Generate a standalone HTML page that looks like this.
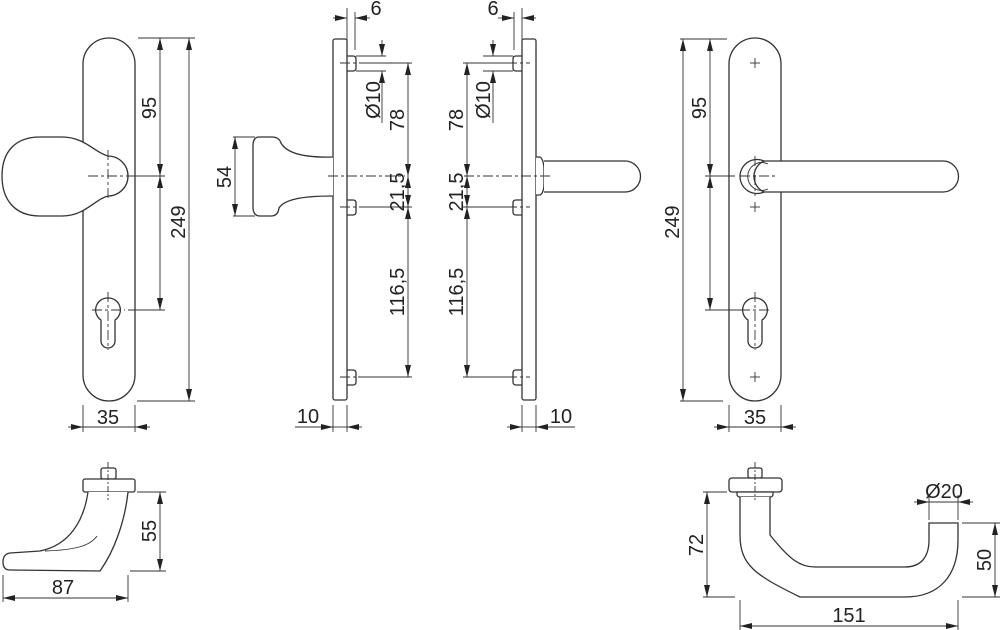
<!DOCTYPE html>
<html><head><meta charset="utf-8"><style>
html,body{margin:0;padding:0;background:#fff;}
svg{display:block;}
text{font-family:"Liberation Sans",sans-serif;font-size:20px;fill:#222;}
</style></head><body>
<svg width="1000" height="630" viewBox="0 0 1000 630" xmlns="http://www.w3.org/2000/svg">
<defs>
<marker id="a" viewBox="0 0 12 6" refX="12" refY="3" markerWidth="12" markerHeight="6" markerUnits="userSpaceOnUse" orient="auto-start-reverse"><path d="M0,0 L12,3 L0,6 Z" fill="#222"/></marker>
</defs>
<g fill="none" stroke="#333" stroke-width="1.3">
<path d="M83,64 A26,26 0 0 1 135,64 L135,375 A26,26 0 0 1 83,375 Z" fill="#fff"/>
<path d="M108,156 A20,20 0 0 1 108,196 C95,199 85,216 62,216 L40,216 C15,216 2,200 2,176 C2,152 15,137 40,137 L62,137 C85,137 95,153 108,156 Z" fill="#fff"/>
<path d="M108,298 A12,12 0 0 1 115,320 L115,341 A7,7 0 0 1 101,341 L101,320 A12,12 0 0 1 108,298 Z" fill="#fff"/>
<g stroke-dasharray="10,3,3,3" stroke-width="0.9">
<line x1="88" y1="176" x2="128" y2="176"/><line x1="108" y1="150" x2="108" y2="200"/>
<line x1="92" y1="310" x2="125" y2="310"/><line x1="108" y1="292" x2="108" y2="350"/>
</g>
<g stroke-width="0.9">
<line x1="138" y1="38" x2="195" y2="38"/><line x1="128" y1="176" x2="165" y2="176"/>
<line x1="128" y1="310" x2="165" y2="310"/><line x1="137" y1="401" x2="195" y2="401"/>
<line x1="160" y1="38" x2="160" y2="176" marker-start="url(#a)" marker-end="url(#a)"/>
<line x1="160" y1="176" x2="160" y2="310" marker-start="url(#a)" marker-end="url(#a)"/>
<line x1="189" y1="38" x2="189" y2="401" marker-start="url(#a)" marker-end="url(#a)"/>
<line x1="83" y1="405" x2="83" y2="432"/><line x1="135" y1="405" x2="135" y2="432"/>
<line x1="68" y1="427" x2="83" y2="427" marker-end="url(#a)"/>
<line x1="150" y1="427" x2="135" y2="427" marker-end="url(#a)"/>
<line x1="83" y1="427" x2="135" y2="427"/>
</g>

<rect x="333" y="39" width="14" height="361" rx="2" fill="#fff"/>
<path d="M333,157 C300,158 286,152 281,143 Q279,137 272,137 L259,137 Q253,137 253,146 L253,207 Q253,216 260,216 L271,216 Q278,216 279,208 C284,200 300,196 333,196" fill="#fff"/>
<g>
<path d="M347,56 L353,56 Q356,56 356,59 L356,68 Q356,71 353,71 L347,71"/>
<path d="M347,200 L353,200 Q356,200 356,203 L356,212 Q356,215 353,215 L347,215"/>
<path d="M347,370 L353,370 Q356,370 356,373 L356,382 Q356,385 353,385 L347,385"/>
</g>
<g stroke-dasharray="10,3,3,3" stroke-width="0.9">
<line x1="340" y1="63" x2="362" y2="63"/><line x1="340" y1="207" x2="362" y2="207"/>
<line x1="340" y1="377" x2="362" y2="377"/><line x1="328" y1="176" x2="405" y2="176"/>
</g>
<g stroke-width="0.9">
<line x1="347" y1="8" x2="347" y2="45"/><line x1="355" y1="12" x2="355" y2="50"/>
<line x1="333" y1="18" x2="347" y2="18" marker-end="url(#a)"/>
<line x1="370" y1="18" x2="355" y2="18" marker-end="url(#a)"/>
<line x1="356" y1="56" x2="386" y2="56"/><line x1="356" y1="71" x2="386" y2="71"/>
<line x1="382" y1="40" x2="382" y2="56" marker-end="url(#a)"/>
<line x1="382" y1="123" x2="382" y2="71" marker-end="url(#a)"/>
<line x1="362" y1="63" x2="412" y2="63"/><line x1="362" y1="207" x2="412" y2="207"/>
<line x1="358" y1="377" x2="412" y2="377"/>
<line x1="408" y1="63" x2="408" y2="176" marker-start="url(#a)" marker-end="url(#a)"/>
<line x1="408" y1="176" x2="408" y2="207" marker-start="url(#a)" marker-end="url(#a)"/>
<line x1="408" y1="207" x2="408" y2="377" marker-start="url(#a)" marker-end="url(#a)"/>
<line x1="333" y1="405" x2="333" y2="432"/><line x1="347" y1="405" x2="347" y2="432"/>
<line x1="295" y1="427" x2="333" y2="427" marker-end="url(#a)"/>
<line x1="362" y1="427" x2="347" y2="427" marker-end="url(#a)"/>
<line x1="333" y1="427" x2="347" y2="427"/>
</g>
<line x1="233" y1="137" x2="255" y2="137" stroke-width="0.9"/>
<line x1="233" y1="216" x2="255" y2="216" stroke-width="0.9"/>
<line x1="235" y1="137" x2="235" y2="216" stroke-width="0.9" marker-start="url(#a)" marker-end="url(#a)"/>

<rect x="522" y="39" width="14" height="361" rx="2" fill="#fff"/>
<path d="M536,157 L540,157 Q544,160 544,170 L544,183 Q544,193 540,195 L536,195" fill="#fff"/>
<path d="M544,161 L625,161 A15.5,15.5 0 0 1 625,192 L544,192" fill="#fff"/>
<g>
<path d="M522,56 L516,56 Q513,56 513,59 L513,68 Q513,71 516,71 L522,71"/>
<path d="M522,200 L516,200 Q513,200 513,203 L513,212 Q513,215 516,215 L522,215"/>
<path d="M522,370 L516,370 Q513,370 513,373 L513,382 Q513,385 516,385 L522,385"/>
</g>
<g stroke-dasharray="10,3,3,3" stroke-width="0.9">
<line x1="507" y1="63" x2="530" y2="63"/><line x1="507" y1="207" x2="530" y2="207"/>
<line x1="507" y1="377" x2="530" y2="377"/><line x1="464" y1="176" x2="550" y2="176"/>
</g>
<g stroke-width="0.9">
<line x1="522" y1="8" x2="522" y2="45"/><line x1="514" y1="12" x2="514" y2="50"/>
<line x1="536" y1="18" x2="522" y2="18" marker-end="url(#a)"/>
<line x1="498" y1="18" x2="514" y2="18" marker-end="url(#a)"/>
<line x1="483" y1="56" x2="513" y2="56"/><line x1="483" y1="71" x2="513" y2="71"/>
<line x1="493" y1="40" x2="493" y2="56" marker-end="url(#a)"/>
<line x1="493" y1="123" x2="493" y2="71" marker-end="url(#a)"/>
<line x1="463" y1="63" x2="507" y2="63"/><line x1="463" y1="207" x2="507" y2="207"/>
<line x1="463" y1="377" x2="511" y2="377"/>
<line x1="467" y1="63" x2="467" y2="176" marker-start="url(#a)" marker-end="url(#a)"/>
<line x1="467" y1="176" x2="467" y2="207" marker-start="url(#a)" marker-end="url(#a)"/>
<line x1="467" y1="207" x2="467" y2="377" marker-start="url(#a)" marker-end="url(#a)"/>
<line x1="522" y1="405" x2="522" y2="432"/><line x1="536" y1="405" x2="536" y2="432"/>
<line x1="507" y1="427" x2="522" y2="427" marker-end="url(#a)"/>
<line x1="575" y1="427" x2="536" y2="427" marker-end="url(#a)"/>
<line x1="522" y1="427" x2="536" y2="427"/>
</g>

<path d="M729,64 A26,26 0 0 1 781,64 L781,375 A26,26 0 0 1 729,375 Z" fill="#fff"/>
<path d="M764,161 L943,161 A15.5,15.5 0 0 1 943,192 L764,192 A17,17 0 1 1 764,161 Z" fill="#fff"/>
<path d="M764,161 A17,17 0 0 0 764,192" />
<path d="M768,164 A14,14 0 1 0 768,189" stroke-width="0.9"/>
<path d="M755,298 A12,12 0 0 1 762,320 L762,341 A7,7 0 0 1 748,341 L748,320 A12,12 0 0 1 755,298 Z" fill="#fff"/>
<g stroke-width="0.9">
<line x1="750" y1="63" x2="760" y2="63"/><line x1="755" y1="58" x2="755" y2="68"/>
<line x1="750" y1="207" x2="760" y2="207"/><line x1="755" y1="202" x2="755" y2="212"/>
<line x1="750" y1="377" x2="760" y2="377"/><line x1="755" y1="372" x2="755" y2="382"/>
</g>
<g stroke-dasharray="10,3,3,3" stroke-width="0.9">
<line x1="740" y1="176" x2="776" y2="176"/><line x1="755" y1="156" x2="755" y2="196"/>
<line x1="740" y1="310" x2="772" y2="310"/><line x1="755" y1="292" x2="755" y2="350"/>
</g>
<g stroke-width="0.9">
<line x1="680" y1="39" x2="727" y2="39"/><line x1="705" y1="176" x2="735" y2="176"/>
<line x1="705" y1="310" x2="742" y2="310"/><line x1="680" y1="401" x2="723" y2="401"/>
<line x1="683" y1="39" x2="683" y2="401" marker-start="url(#a)" marker-end="url(#a)"/>
<line x1="710" y1="39" x2="710" y2="176" marker-start="url(#a)" marker-end="url(#a)"/>
<line x1="710" y1="176" x2="710" y2="310" marker-start="url(#a)" marker-end="url(#a)"/>
<line x1="729" y1="405" x2="729" y2="432"/><line x1="781" y1="405" x2="781" y2="432"/>
<line x1="714" y1="427" x2="729" y2="427" marker-end="url(#a)"/>
<line x1="796" y1="427" x2="781" y2="427" marker-end="url(#a)"/>
<line x1="729" y1="427" x2="781" y2="427"/>
</g>

<rect x="101" y="468" width="15" height="11" rx="2" fill="#fff"/>
<rect x="83" y="479" width="52" height="13" rx="2" fill="#fff"/>
<path d="M88,492 C84,520 70,545 40,551 L10,553 Q3,554 3,562 Q3,570 10,570 L100,571 C115,550 125,520 128,492" fill="#fff"/>
<path d="M97,536 C90,546 75,550 45,551" stroke-width="0.9"/>
<line x1="108" y1="462" x2="108" y2="500" stroke-dasharray="6,2,2,2" stroke-width="0.9"/>
<g stroke-width="0.9">
<line x1="137" y1="492" x2="166" y2="492"/><line x1="130" y1="571" x2="166" y2="571"/>
<line x1="160" y1="492" x2="160" y2="571" marker-start="url(#a)" marker-end="url(#a)"/>
<line x1="3" y1="575" x2="3" y2="602"/><line x1="128" y1="575" x2="128" y2="602"/>
<line x1="3" y1="598" x2="128" y2="598" marker-start="url(#a)" marker-end="url(#a)"/>
</g>

<rect x="748" y="468" width="14" height="10" rx="2" fill="#fff"/>
<rect x="729" y="478" width="53" height="14" rx="3" fill="#fff"/>
<path d="M737,492 L773,492 L773,494 Q773,497 770,497 L740,497 Q737,497 737,494 Z" fill="#fff"/>
<path d="M740,497 L740,535 C740,565 755,575 800,597 L905,597 C940,597 958,575 958,540 L958,523 L929,523 L929,540 C929,558 920,567 905,567 L815,567 C800,567 790,560 770,535 L770,497" fill="#fff"/>
<line x1="755" y1="462" x2="755" y2="500" stroke-dasharray="6,2,2,2" stroke-width="0.9"/>
<g stroke-width="0.9">
<line x1="703" y1="492" x2="727" y2="492"/><line x1="703" y1="597" x2="735" y2="597"/>
<line x1="707" y1="492" x2="707" y2="597" marker-start="url(#a)" marker-end="url(#a)"/>
<line x1="962" y1="523" x2="1000" y2="523"/><line x1="962" y1="597" x2="1000" y2="597"/>
<line x1="995" y1="523" x2="995" y2="597" marker-start="url(#a)" marker-end="url(#a)"/>
<line x1="929" y1="495" x2="929" y2="520"/><line x1="958" y1="495" x2="958" y2="520"/>
<line x1="914" y1="502" x2="929" y2="502" marker-end="url(#a)"/>
<line x1="973" y1="502" x2="958" y2="502" marker-end="url(#a)"/>
<line x1="929" y1="502" x2="958" y2="502"/>
<line x1="740" y1="600" x2="740" y2="630"/><line x1="958" y1="600" x2="958" y2="630"/>
<line x1="740" y1="626" x2="958" y2="626" marker-start="url(#a)" marker-end="url(#a)"/>
</g>
</g>

<text transform="translate(156,108) rotate(-90)" text-anchor="middle">95</text>
<text transform="translate(185,222) rotate(-90)" text-anchor="middle">249</text>
<text x="108" y="424" text-anchor="middle">35</text>
<text transform="translate(231,177) rotate(-90)" text-anchor="middle">54</text>
<text x="376" y="15" text-anchor="middle">6</text>
<text transform="translate(380,100) rotate(-90)" text-anchor="middle">Ø10</text>
<text transform="translate(404,120) rotate(-90)" text-anchor="middle">78</text>
<text transform="translate(404,192) rotate(-90)" text-anchor="middle">21,5</text>
<text transform="translate(404,292) rotate(-90)" text-anchor="middle">116,5</text>
<text x="308" y="423" text-anchor="middle">10</text>
<text x="493" y="15" text-anchor="middle">6</text>
<text transform="translate(490,100) rotate(-90)" text-anchor="middle">Ø10</text>
<text transform="translate(463,120) rotate(-90)" text-anchor="middle">78</text>
<text transform="translate(463,192) rotate(-90)" text-anchor="middle">21,5</text>
<text transform="translate(463,292) rotate(-90)" text-anchor="middle">116,5</text>
<text x="561" y="423" text-anchor="middle">10</text>
<text transform="translate(706,108) rotate(-90)" text-anchor="middle">95</text>
<text transform="translate(679,222) rotate(-90)" text-anchor="middle">249</text>
<text x="755" y="424" text-anchor="middle">35</text>
<text transform="translate(156,531) rotate(-90)" text-anchor="middle">55</text>
<text x="63" y="594" text-anchor="middle">87</text>
<text transform="translate(703,545) rotate(-90)" text-anchor="middle">72</text>
<text transform="translate(991,560) rotate(-90)" text-anchor="middle">50</text>
<text x="944" y="498" text-anchor="middle">Ø20</text>
<text x="849" y="622" text-anchor="middle">151</text>
</svg>
</body></html>
